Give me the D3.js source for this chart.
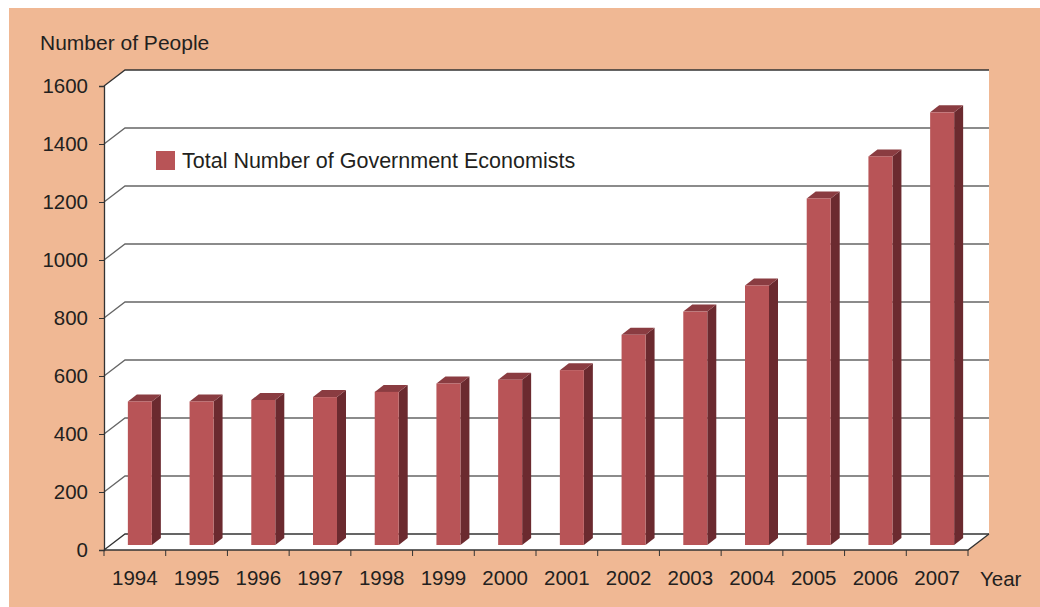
<!DOCTYPE html>
<html lang="en">
<head>
    <meta charset="UTF-8">
    <title>Total Number of Government Economists</title>
    <script src="https://d3js.org/d3.v7.min.js"></script>
    <style>
        body { margin: 0; background: #fff; }
        svg text { font-family: "Liberation Sans", Arial, sans-serif; fill: #231f20; }
    </style>
</head>
<body>
    <svg id="chart"></svg>
    <script>
        const years = ["1994","1995","1996","1997","1998","1999","2000","2001","2002","2003","2004","2005","2006","2007"];
        const economists = [495, 495, 500, 510, 528, 557, 570, 603, 725, 805, 895, 1195, 1340, 1492];
        const yTicks = [0, 200, 400, 600, 800, 1000, 1200, 1400, 1600];

        const width = 1040, height = 607;
        const svg = d3.select("#chart").attr("width", width).attr("height", height);

        // 3d depth of the box and of the bars
        const depthX = 21, depthY = -16;
        const barOffX = 5, barOffY = -5;
        const barDX = 9, barDY = -7;
        const barW = 24;

        const x = d3.scaleBand().domain(years).range([104, 968]);
        const y = d3.scaleLinear().domain([0, 1600]).range([550, 86]);

        svg.append("rect").attr("x", 9).attr("y", 8).attr("width", width - 9).attr("height", height - 8)
            .attr("fill", "#f0b894");

        // walls
        const x0 = x.range()[0], x1 = x.range()[1];
        svg.append("path")
            .attr("d", `M${x0},${y(0)} L${x0},${y(1600)} L${x0 + depthX},${y(1600) + depthY} L${x1 + depthX},${y(1600) + depthY} L${x1 + depthX},${y(0) + depthY} L${x1},${y(0)} Z`)
            .attr("fill", "#fff");

        // gridlines on side + back wall
        svg.selectAll(".grid").data(yTicks).join("path")
            .attr("class", "grid")
            .attr("d", d => `M${x0},${y(d)} L${x0 + depthX},${y(d) + depthY} L${x1 + depthX},${y(d) + depthY}`)
            .attr("fill", "none")
            .attr("stroke", (d, i) => i == 0 || i == yTicks.length - 1 ? "#333" : "#666")
            .attr("stroke-width", 1.3);

        // floor front edge
        svg.append("path")
            .attr("d", `M${x0},${y(0)} L${x1},${y(0)} L${x1 + depthX},${y(0) + depthY}`)
            .attr("fill", "none").attr("stroke", "#333").attr("stroke-width", 1.3);

        // bars
        const bars = svg.selectAll(".bar").data(years).join("g").attr("class", "bar");
        const bx = d => x(d) + (x.bandwidth() - barW) / 2 + barOffX;
        const by = (d, i) => y(economists[i]) + barOffY;
        const b0 = y(0) + barOffY;

        bars.append("path")
            .attr("d", (d, i) => {
                const l = bx(d) + barW, t = by(d, i);
                return `M${l},${t} L${l + barDX},${t + barDY} L${l + barDX},${b0 + barDY} L${l},${b0} Z`;
            })
            .attr("fill", "#6b2a2f");
        bars.append("path")
            .attr("d", (d, i) => {
                const l = bx(d), t = by(d, i);
                return `M${l},${t} L${l + barDX},${t + barDY} L${l + barW + barDX},${t + barDY} L${l + barW},${t} Z`;
            })
            .attr("fill", "#8a3c41");
        bars.append("rect")
            .attr("x", d => bx(d))
            .attr("y", (d, i) => by(d, i))
            .attr("width", barW)
            .attr("height", (d, i) => b0 - by(d, i))
            .attr("fill", "#b85457");

        // axes
        const yAxis = svg.append("g").attr("transform", `translate(${x0},0)`)
            .call(d3.axisLeft(y).tickValues(yTicks).tickFormat(d3.format("d")).tickSize(5).tickPadding(11));
        yAxis.select(".domain").attr("stroke", "#333").attr("stroke-width", 1.3);
        yAxis.selectAll(".tick line").attr("stroke", "#333");
        yAxis.selectAll("text").attr("font-size", 20.5).style("font-family", "Liberation Sans, Arial, sans-serif").attr("fill", "#231f20");

        const xAxis = svg.append("g").attr("transform", `translate(0,${y(0)})`)
            .call(d3.axisBottom(x).tickSize(0).tickPadding(20));
        xAxis.select(".domain").remove();
        xAxis.selectAll("text").attr("font-size", 20.5).style("font-family", "Liberation Sans, Arial, sans-serif").attr("fill", "#231f20");

        // category boundary ticks
        svg.selectAll(".xtick").data(years.concat(["end"])).join("line")
            .attr("class", "xtick")
            .attr("x1", (d, i) => x0 + i * x.step())
            .attr("x2", (d, i) => x0 + i * x.step())
            .attr("y1", y(0)).attr("y2", y(0) + 6)
            .attr("stroke", "#333");

        svg.append("text").attr("x", 40).attr("y", 50).attr("font-size", 21).text("Number of People");
        svg.append("text").attr("x", 980).attr("y", 586).attr("font-size", 20.5).text("Year");

        // legend
        svg.append("rect").attr("x", 156).attr("y", 151).attr("width", 19).attr("height", 19).attr("fill", "#b85457");
        svg.append("text").attr("x", 182).attr("y", 168).attr("font-size", 21.5).text("Total Number of Government Economists");
    </script>
</body>
</html>
